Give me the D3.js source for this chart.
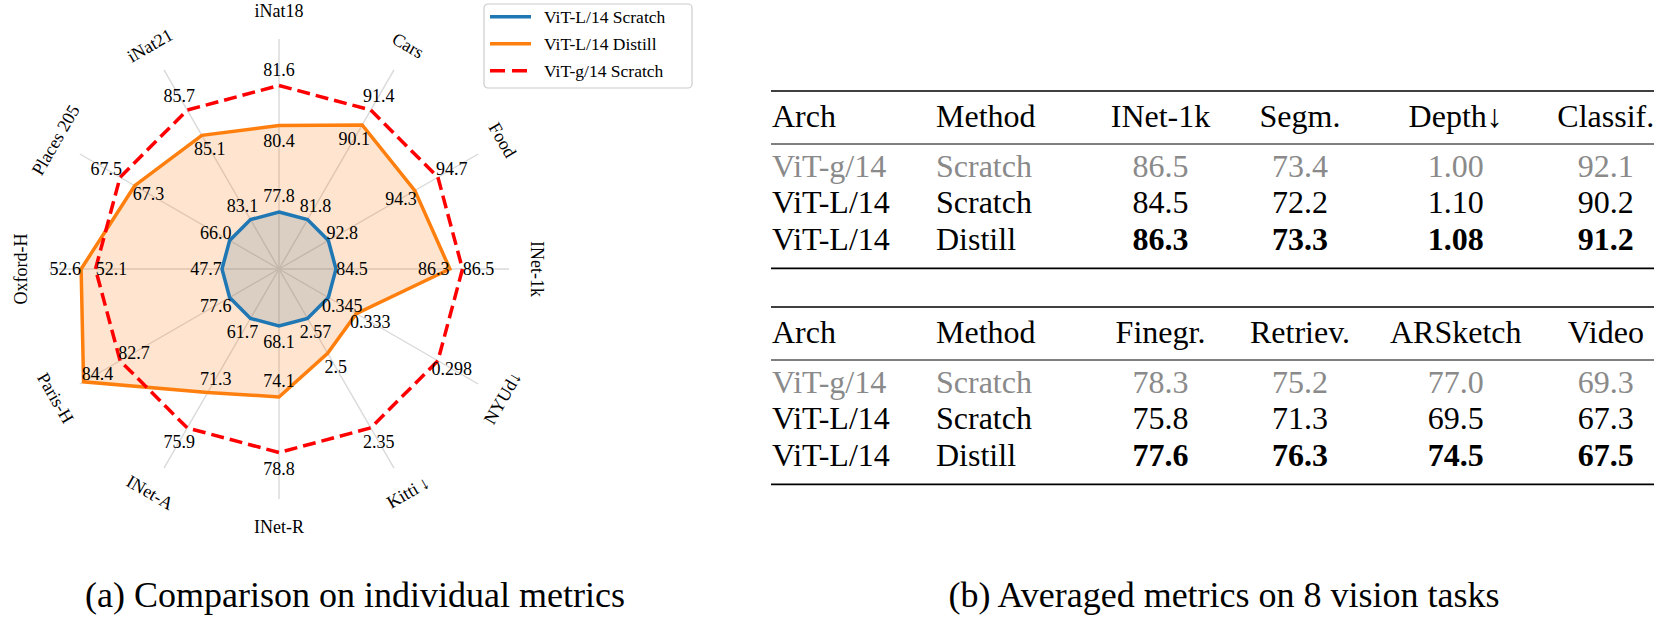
<!DOCTYPE html>
<html>
<head>
<meta charset="utf-8">
<script src="https://cdn.jsdelivr.net/npm/d3@7"></script>
<style>
  body { margin: 0; background: #fff; }
  svg { display: block; }
  text { font-family: "Liberation Serif", "Times New Roman", serif; fill: #000; }
</style>
</head>
<body>
<svg id="chart" width="1662" height="633"></svg>
<script>
// =========================
// Data
// =========================

// radar axes, clockwise from the top
const axes = ["iNat18", "Cars", "Food", "INet-1k", "NYUd\u2193", "Kitti\u2009\u2193",
  "INet-R", "INet-A", "Paris-H", "Oxford-H", "Places 205", "iNat21"];

const vitLScratch = [77.8, 81.8, 92.8, 84.5, 0.345, 2.57, 68.1, 61.7, 77.6, 47.7, 66.0, 83.1];
const vitLDistill = [80.4, 90.1, 94.3, 86.3, 0.333, 2.5, 74.1, 71.3, 84.4, 52.6, 67.3, 85.1];
const vitGScratch = [81.6, 91.4, 94.7, 86.5, 0.298, 2.35, 78.8, 75.9, 82.7, 52.1, 67.5, 85.7];

const seriesNames = ["ViT-L/14 Scratch", "ViT-L/14 Distill", "ViT-g/14 Scratch"];

// tables
const tableArch = ["ViT-g/14", "ViT-L/14", "ViT-L/14"];
const tableMethod = ["Scratch", "Scratch", "Distill"];
const topColumns = ["INet-1k", "Segm.", "Depth\u2193", "Classif."];
const topValues = [
  ["86.5", "73.4", "1.00", "92.1"],
  ["84.5", "72.2", "1.10", "90.2"],
  ["86.3", "73.3", "1.08", "91.2"]
];
const bottomColumns = ["Finegr.", "Retriev.", "ARSketch", "Video"];
const bottomValues = [
  ["78.3", "75.2", "77.0", "69.3"],
  ["75.8", "71.3", "69.5", "67.3"],
  ["77.6", "76.3", "74.5", "67.5"]
];

const captionA = "(a) Comparison on individual metrics";
const captionB = "(b) Averaged metrics on 8 vision tasks";

// =========================
// Radar
// =========================

const svg = d3.select("#chart");

const cx = 279, cy = 269;
const spokeLength = 230;
const axisLabelRadius = 258;
const labelOffset = 16;

const blue = "#1f77b4", orange = "#ff7f0e", red = "#ff0000";

// each axis: ViT-L scratch -> 0, ViT-g scratch -> 1
function norm(values, i) {
  return (values[i] - vitLScratch[i]) / (vitGScratch[i] - vitLScratch[i]);
}

const angle = d3.scaleLinear().domain([0, axes.length]).range([0, 2 * Math.PI]);
const r = d3.scaleLinear().domain([0, 1]).range([57, 183.5]);

function point(a, rad) {
  return [cx + rad * Math.sin(a), cy - rad * Math.cos(a)];
}

const radar = svg.append("g").attr("class", "radar");

// spokes
radar.selectAll("line.spoke")
  .data(axes)
  .enter().append("line")
  .attr("class", "spoke")
  .attr("x1", cx).attr("y1", cy)
  .attr("x2", (d, i) => point(angle(i), spokeLength)[0])
  .attr("y2", (d, i) => point(angle(i), spokeLength)[1])
  .attr("stroke", "#d9d9d9")
  .attr("stroke-width", 1.4);

const line = d3.lineRadial()
  .angle((d, i) => angle(i))
  .radius(d => r(d))
  .curve(d3.curveLinearClosed);

const series = [
  { name: seriesNames[0], values: vitLScratch, color: blue, fill: true, dash: null },
  { name: seriesNames[1], values: vitLDistill, color: orange, fill: true, dash: null },
  { name: seriesNames[2], values: vitGScratch, color: red, fill: false, dash: "13,6" }
];
series.forEach(s => { s.t = s.values.map((v, i) => norm(s.values, i)); });

const plot = radar.append("g").attr("transform", `translate(${cx},${cy})`);

// fills first, then outlines on top
series.filter(s => s.fill).forEach(s => {
  plot.append("path")
    .attr("d", line(s.t))
    .attr("fill", s.color)
    .attr("fill-opacity", 0.2)
    .attr("stroke", "none");
});

series.forEach(s => {
  plot.append("path")
    .attr("d", line(s.t))
    .attr("fill", "none")
    .attr("stroke", s.color)
    .attr("stroke-width", 3.5)
    .attr("stroke-linejoin", "miter")
    .attr("stroke-dasharray", s.dash);
});

// value labels: outside the vertex, unless that would run into a neighbour line
function labelSide(si, i) {
  const tO = series[1].t[i];
  if (si === 0) return 1;
  if (si === 2) return tO > 1 ? -1 : 1;
  if (tO > 1) return tO > 1.25 ? -1 : 1;
  return tO < 0.4 ? 1 : -1;
}

const fmt = v => Number.isInteger(v) ? v.toFixed(1) : String(v);

series.forEach((s, si) => {
  radar.selectAll(null)
    .data(s.values)
    .enter().append("text")
    .attr("x", (v, i) => point(angle(i), r(s.t[i]) + labelSide(si, i) * labelOffset)[0])
    .attr("y", (v, i) => point(angle(i), r(s.t[i]) + labelSide(si, i) * labelOffset)[1])
    .attr("text-anchor", "middle")
    .attr("dominant-baseline", "central")
    .attr("font-size", 18)
    .text(v => fmt(v));
});

// axis names, tangential
radar.selectAll("text.axis-name")
  .data(axes)
  .enter().append("text")
  .attr("class", "axis-name")
  .attr("transform", (d, i) => {
    const deg = i * 360 / axes.length;
    const rot = (deg > 90 && deg < 270) ? deg - 180 : deg;
    const p = point(angle(i), axisLabelRadius);
    return `translate(${p[0]},${p[1]}) rotate(${rot})`;
  })
  .attr("text-anchor", "middle")
  .attr("dominant-baseline", "central")
  .attr("font-size", 18)
  .text(d => d);

// legend
const legend = svg.append("g").attr("transform", "translate(484,4)");
legend.append("rect")
  .attr("width", 208).attr("height", 84)
  .attr("rx", 4)
  .attr("fill", "#fff").attr("fill-opacity", 0.8)
  .attr("stroke", "#cccccc").attr("stroke-width", 1.2);

const legendRows = legend.selectAll("g.item")
  .data(series)
  .enter().append("g")
  .attr("class", "item")
  .attr("transform", (d, i) => `translate(0,${12.7 + i * 27})`);

legendRows.append("line")
  .attr("x1", 6).attr("x2", 47)
  .attr("stroke", d => d.color)
  .attr("stroke-width", 3.5)
  .attr("stroke-dasharray", d => d.dash ? "15,7" : null);

legendRows.append("text")
  .attr("x", 60)
  .attr("dominant-baseline", "central")
  .attr("font-size", 17.5)
  .text(d => d.name);

// =========================
// Tables
// =========================

const tableLeft = 771, tableRight = 1654;
const colArch = 772, colMethod = 936;
const numCenters = [1160.5, 1300, 1455.7, 1605.8];
const grayText = "#8a8a8a";

function drawTable(top, columns, values) {
  const g = svg.append("g").attr("class", "table");
  const rowY = [top + 85.7, top + 122.3, top + 159];

  // rules
  [[top, 1.7], [top + 53, 1], [top + 177.3, 1.7]].forEach(([y, w]) => {
    g.append("line")
      .attr("x1", tableLeft).attr("x2", tableRight)
      .attr("y1", y).attr("y2", y)
      .attr("stroke", "#000").attr("stroke-width", w);
  });

  // header
  const headerY = top + 36;
  g.append("text").attr("x", colArch).attr("y", headerY).attr("font-size", 32).text("Arch");
  g.append("text").attr("x", colMethod).attr("y", headerY).attr("font-size", 32).text("Method");
  g.selectAll(null).data(columns).enter().append("text")
    .attr("x", (d, i) => numCenters[i]).attr("y", headerY)
    .attr("text-anchor", "middle").attr("font-size", 32)
    .text(d => d);

  // rows
  values.forEach((row, ri) => {
    const color = ri === 0 ? grayText : "#000";
    const weight = ri === 2 ? "bold" : "normal";
    g.append("text").attr("x", colArch).attr("y", rowY[ri])
      .attr("font-size", 32).style("fill", color).text(tableArch[ri]);
    g.append("text").attr("x", colMethod).attr("y", rowY[ri])
      .attr("font-size", 32).style("fill", color).text(tableMethod[ri]);
    g.selectAll(null).data(row).enter().append("text")
      .attr("x", (d, i) => numCenters[i]).attr("y", rowY[ri])
      .attr("text-anchor", "middle").attr("font-size", 32)
      .attr("font-weight", weight)
      .style("fill", color)
      .text(d => d);
  });
}

drawTable(91, topColumns, topValues);
drawTable(307, bottomColumns, bottomValues);

// =========================
// Captions
// =========================

svg.append("text")
  .attr("x", 355).attr("y", 607)
  .attr("text-anchor", "middle")
  .attr("font-size", 36)
  .text(captionA);

svg.append("text")
  .attr("x", 1224).attr("y", 607)
  .attr("text-anchor", "middle")
  .attr("font-size", 36)
  .text(captionB);
</script>
</body>
</html>
